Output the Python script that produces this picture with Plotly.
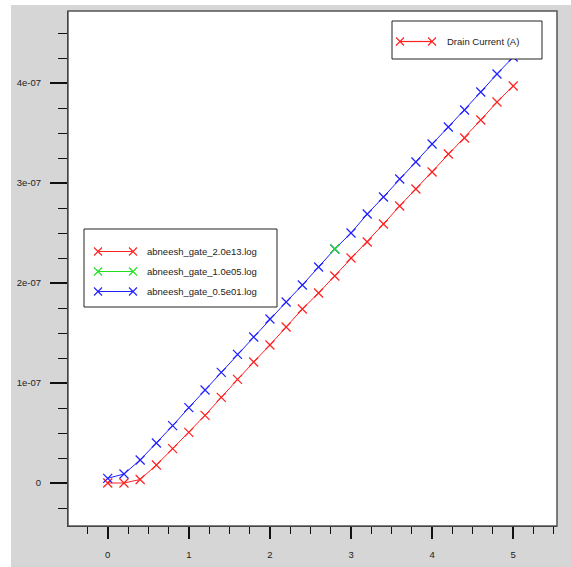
import plotly.graph_objects as go

# Data (currents in units of 1e-7 A)
vg = [0, 0.2, 0.4, 0.6, 0.8, 1.0, 1.2, 1.4, 1.6, 1.8, 2.0, 2.2, 2.4,
      2.6, 2.8, 3.0, 3.2, 3.4, 3.6, 3.8, 4.0, 4.2, 4.4, 4.6, 4.8, 5.0]
red_e7 = [0.0, 0.0, 0.035, 0.18, 0.343, 0.507, 0.677, 0.857, 1.037, 1.21, 1.38,
          1.56, 1.74, 1.90, 2.07, 2.25, 2.41, 2.59, 2.77, 2.94, 3.11, 3.29,
          3.45, 3.63, 3.81, 3.97]
blue_e7 = [0.047, 0.09, 0.23, 0.40, 0.573, 0.753, 0.93, 1.107, 1.287, 1.46, 1.64,
           1.81, 1.98, 2.16, 2.34, 2.50, 2.69, 2.86, 3.04, 3.21, 3.39, 3.56,
           3.73, 3.91, 4.09, 4.26]
green_x = [2.8]
green_e7 = [2.34]

x_ticks = [0, 1, 2, 3, 4, 5]
y_tick_vals_e7 = [0, 1, 2, 3, 4]
y_tick_text = ["0", "1e-07", "2e-07", "3e-07", "4e-07"]

names = ["abneesh_gate_2.0e13.log", "abneesh_gate_1.0e05.log", "abneesh_gate_0.5e01.log"]
colors = ["#ff2020", "#20e020", "#2020ff"]
legend2_name = "Drain Current (A)"

FONT = "Arial, Liberation Sans, sans-serif"
FS = 9.5
TXT = "#222222"

def mk(c):
    return dict(symbol="x-thin", size=9, color=c, line=dict(color=c, width=1.2))

fig = go.Figure()
fig.add_trace(go.Scatter(x=vg, y=[v * 1e-7 for v in red_e7], mode="lines+markers",
                         name=names[0], line=dict(color=colors[0], width=1), marker=mk(colors[0])))
fig.add_trace(go.Scatter(x=vg, y=[v * 1e-7 for v in blue_e7], mode="lines+markers",
                         name=names[2], line=dict(color=colors[2], width=1), marker=mk(colors[2])))
fig.add_trace(go.Scatter(x=green_x, y=[v * 1e-7 for v in green_e7], mode="lines+markers",
                         name=names[1], line=dict(color=colors[1], width=1), marker=mk(colors[1])))

# plot area: x 68..557, y 11..526 px in a 571x567 canvas
W, H = 571, 567
L, R, T, B = 68, 557, 11, 526
pw, ph = R - L, B - T

def px_x(p):
    return (p - L) / pw

def px_y(p):
    return (B - p) / ph

shapes = [
    dict(type="rect", xref="paper", yref="paper", x0=px_x(-10), x1=px_x(600),
         y0=px_y(5), y1=px_y(-10), fillcolor="white", line=dict(width=0), layer="below"),
    dict(type="rect", xref="paper", yref="paper", x0=px_x(-10), x1=px_x(11),
         y0=px_y(600), y1=px_y(-10), fillcolor="white", line=dict(width=0), layer="below"),
    dict(type="rect", xref="paper", yref="paper", x0=0, x1=1, y0=0, y1=1,
         line=dict(color="#555555", width=1.5), fillcolor="rgba(0,0,0,0)", layer="above"),
]
annotations = []

def legend_box(x0, y0, x1, y1, entries, line_x0, line_x1, text_x):
    shapes.append(dict(type="rect", xref="paper", yref="paper",
                       x0=px_x(x0), x1=px_x(x1), y0=px_y(y1), y1=px_y(y0),
                       fillcolor="white", line=dict(color="#222222", width=1), layer="above"))
    for ey, col, label in entries:
        shapes.append(dict(type="line", xref="paper", yref="paper",
                           x0=px_x(line_x0), x1=px_x(line_x1), y0=px_y(ey), y1=px_y(ey),
                           line=dict(color=col, width=1.2), layer="above"))
        for cx in (line_x0, line_x1):
            d = 4
            path = (f"M {px_x(cx - d)} {px_y(ey - d)} L {px_x(cx + d)} {px_y(ey + d)} "
                    f"M {px_x(cx - d)} {px_y(ey + d)} L {px_x(cx + d)} {px_y(ey - d)}")
            shapes.append(dict(type="path", xref="paper", yref="paper", path=path,
                               line=dict(color=col, width=1.1), layer="above"))
        annotations.append(dict(xref="paper", yref="paper", x=px_x(text_x), y=px_y(ey),
                                xanchor="left", yanchor="middle", showarrow=False, text=label,
                                font=dict(family=FONT, size=FS, color=TXT)))

legend_box(84, 229, 277, 307,
           [(251.5, colors[0], names[0]), (271.5, colors[1], names[1]), (291.5, colors[2], names[2])],
           98, 133, 145)
legend_box(392, 21, 542, 59, [(41.5, colors[0], legend2_name)], 400, 432, 445)

fig.update_layout(
    width=W, height=H,
    margin=dict(l=L, r=W - R, t=T, b=H - B, pad=0, autoexpand=False),
    paper_bgcolor="#d6d6d6",
    plot_bgcolor="white",
    font=dict(family=FONT, size=FS, color=TXT),
    showlegend=False,
    shapes=shapes,
    annotations=annotations,
)

fig.update_xaxes(
    range=[-0.49, 5.54], tickvals=x_ticks, ticktext=[str(v) for v in x_ticks],
    ticks="outside", ticklen=12, tickwidth=2, tickcolor="#111111",
    showgrid=False, zeroline=False, showline=True, linecolor="#111111", linewidth=1,
    ticklabelstandoff=8, automargin=False,
    minor=dict(ticks="outside", ticklen=7, tickwidth=1, tickcolor="#111111",
               dtick=0.25, tick0=0, showgrid=False),
    tickfont=dict(family=FONT, size=FS, color=TXT),
)
fig.update_yaxes(
    range=[-0.43e-7, 4.72e-7], tickvals=[v * 1e-7 for v in y_tick_vals_e7], ticktext=y_tick_text,
    ticks="outside", ticklen=17, tickwidth=2, tickcolor="#111111",
    showgrid=False, zeroline=False, showline=True, linecolor="#111111", linewidth=1,
    ticklabelstandoff=7, automargin=False,
    minor=dict(ticks="outside", ticklen=9, tickwidth=1, tickcolor="#111111",
               dtick=0.25e-7, tick0=0, showgrid=False),
    tickfont=dict(family=FONT, size=FS, color=TXT),
)

fig.write_html("out.html", config={"displayModeBar": False},
               post_script="document.body.style.margin='0';")
